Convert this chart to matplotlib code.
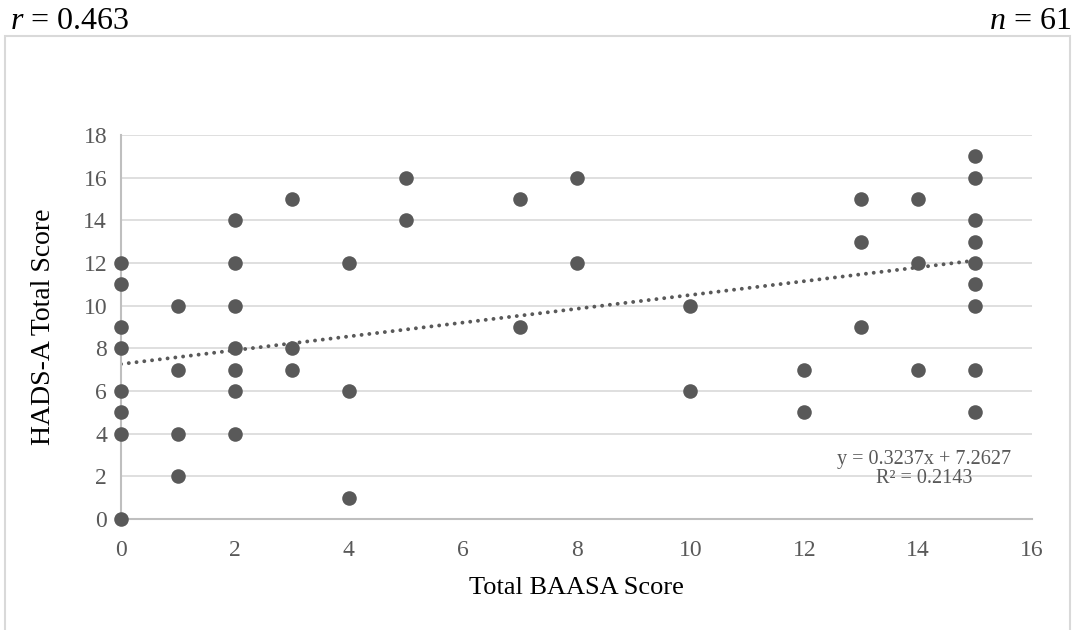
import matplotlib
matplotlib.use("Agg")
import matplotlib.pyplot as plt
from matplotlib.patches import Rectangle
import numpy as np

# Data
baasa = [0, 0, 0, 0, 0, 0, 0, 0,
         1, 1, 1, 1,
         2, 2, 2, 2, 2, 2, 2,
         3, 3, 3,
         4, 4, 4,
         5, 5,
         7, 7,
         8, 8,
         10, 10,
         12, 12,
         13, 13, 13,
         14, 14, 14,
         15, 15, 15, 15, 15, 15, 15, 15, 15]
hads = [12, 11, 9, 8, 6, 5, 4, 0,
        10, 7, 4, 2,
        14, 12, 10, 8, 7, 6, 4,
        15, 8, 7,
        12, 6, 1,
        16, 14,
        15, 9,
        16, 12,
        10, 6,
        7, 5,
        15, 13, 9,
        15, 12, 7,
        17, 16, 14, 13, 12, 11, 10, 7, 5]
slope = 0.3237
intercept = 7.2627
r2 = 0.2143
r_value = "0.463"
n_value = "61"
x_ticks = [0, 2, 4, 6, 8, 10, 12, 14, 16]
y_ticks = [0, 2, 4, 6, 8, 10, 12, 14, 16, 18]

plt.rcParams['font.family'] = ['Liberation Serif', 'DejaVu Serif']
plt.rcParams['mathtext.fontset'] = 'custom'
plt.rcParams['mathtext.it'] = 'Liberation Serif:italic'
plt.rcParams['mathtext.rm'] = 'Liberation Serif'

fig = plt.figure(figsize=(10.77, 6.30), dpi=100)

# outer chart border
fig.patches.append(Rectangle((5/1077, -0.01), 1065/1077, 1 - 36/630 + 0.01,
                             transform=fig.transFigure, fill=False,
                             edgecolor='#d9d9d9', linewidth=1.5, zorder=0))

ax = fig.add_axes([121/1077, 1 - 519/630, (1032 - 121)/1077, (519 - 135)/630])
ax.set_xlim(0, 16)
ax.set_ylim(0, 18)
ax.set_xticks(x_ticks)
ax.set_yticks(y_ticks)
ax.tick_params(axis='both', length=0, labelsize=17, labelcolor='#595959')
ax.tick_params(axis='x', pad=15)
ax.tick_params(axis='y', pad=10)
ax.grid(axis='y', color='#d9d9d9', linewidth=1.2, zorder=0)
ax.set_axisbelow(True)
for s in ['top', 'right']:
    ax.spines[s].set_visible(False)
for s in ['left', 'bottom']:
    ax.spines[s].set_color('#bfbfbf')
    ax.spines[s].set_linewidth(1.5)

ax.scatter(baasa, hads, s=110, color='#595959', zorder=3, clip_on=False, linewidths=0)

xs = np.array([0, max(baasa)])
ax.plot(xs, slope * xs + intercept, linestyle=(0, (0.01, 2.0)), color='#595959',
        linewidth=2.8, zorder=2, dash_capstyle='round')

ax.text(14.1, 2.35, f"y = {slope}x + {intercept}\nR² = {r2}", ha='center', va='center',
        fontsize=14.5, color='#595959', linespacing=1.0)

ax.set_xlabel("Total BAASA Score", fontsize=19, labelpad=12)
ax.set_ylabel("HADS-A Total Score", fontsize=20, labelpad=20)

fig.text(10/1077, 1 - 29/630, "$\\it{r}$ = " + r_value, fontsize=23, va='baseline', ha='left')
fig.text(1071/1077, 1 - 29/630, "$\\it{n}$ = " + n_value, fontsize=23, va='baseline', ha='right')

fig.savefig("out.png", dpi=100)
